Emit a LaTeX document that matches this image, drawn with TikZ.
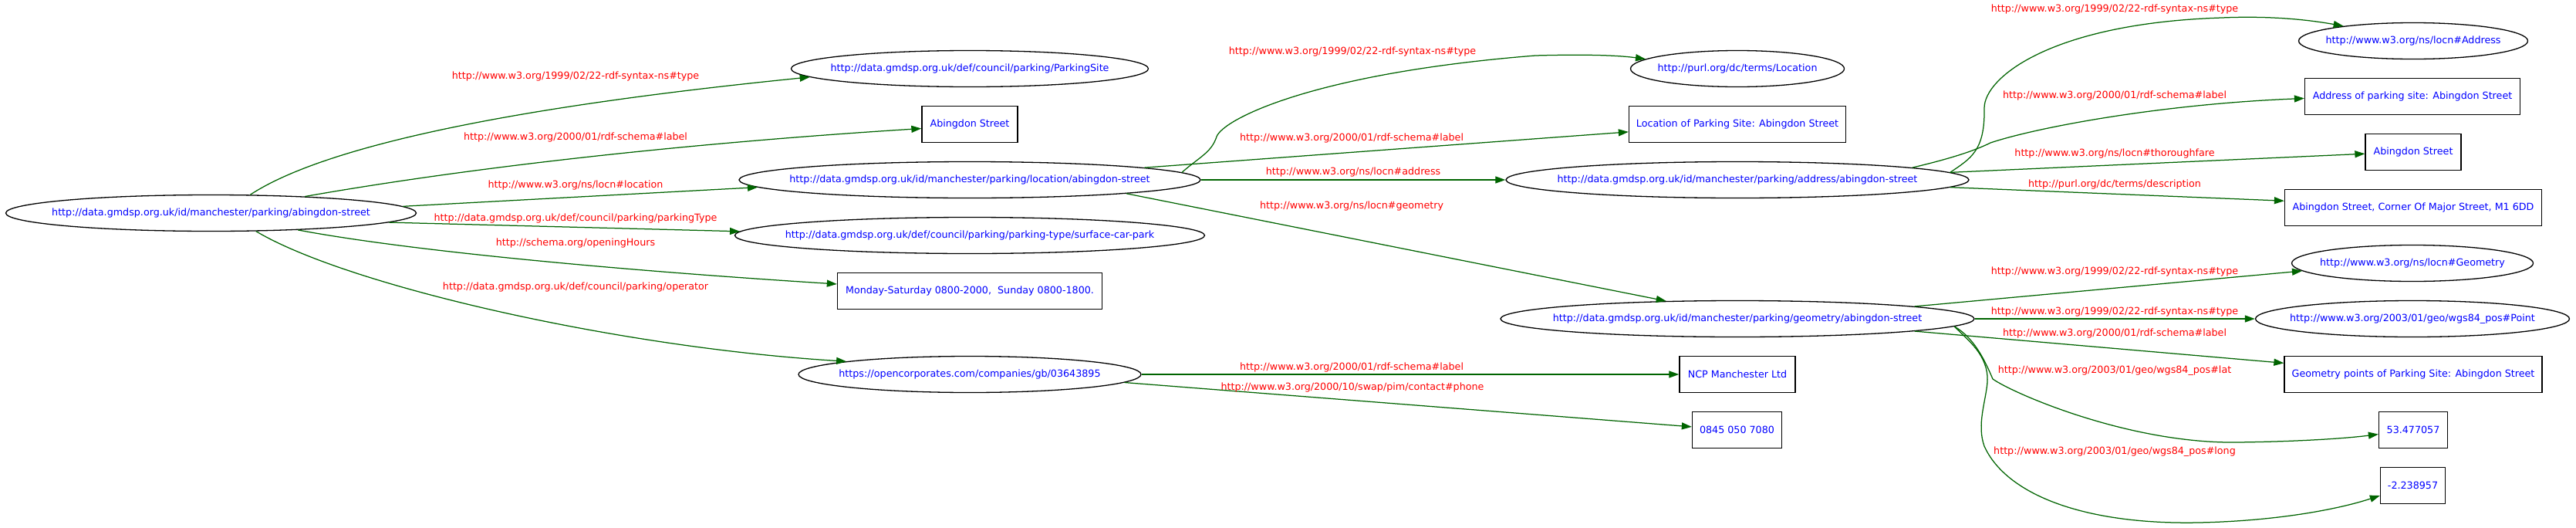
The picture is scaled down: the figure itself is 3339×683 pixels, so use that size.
\documentclass[tikz,border=0pt]{standalone}
\usepackage{fontspec}
\setmainfont{DejaVu Sans}
\usetikzlibrary{arrows.meta,shapes.geometric}
\definecolor{edgegreen}{HTML}{006400}
\definecolor{nodeblue}{HTML}{0000FF}
\definecolor{labelred}{HTML}{FF0000}
\begin{document}
\begin{tikzpicture}[x=1pt,y=-1pt,
  every node/.style={font=\fontsize{12.7pt}{15pt}\selectfont},
  res/.style={ellipse, draw=black, line width=1.3pt, inner xsep=-250pt, inner ysep=-20pt, text=nodeblue, minimum height=47pt},
  lit/.style={rectangle, draw=black, line width=1.3pt, inner sep=0pt, text=nodeblue, minimum height=47pt},
  pred/.style={text=labelred, inner sep=0pt},
  arc/.style={draw=edgegreen, line width=1.25pt, -{Triangle[length=13pt,width=9pt]}}]
\fill[white] (0,0) rectangle (3339,683);
\useasboundingbox (0,0) rectangle (3339,683);
% nodes, column 1
\node[res, minimum width=532pt] (main) at (273.5,276) {http://data.gmdsp.org.uk/id/manchester/parking/abingdon-street};
% column 2
\node[res, minimum width=463pt] (ps) at (1257,89) {http://data.gmdsp.org.uk/def/council/parking/ParkingSite};
\node[lit, minimum width=124pt] (abs1) at (1257,161) {Abingdon Street};
\node[res, minimum width=598pt] (loc) at (1257,233) {http://data.gmdsp.org.uk/id/manchester/parking/location/abingdon-street};
\node[res, minimum width=609pt] (sc) at (1257,305) {http://data.gmdsp.org.uk/def/council/parking/parking-type/surface-car-park};
\node[lit, minimum width=343pt] (mon) at (1257,377) {Monday-Saturday 0800-2000,\ \ Sunday 0800-1800.};
\node[res, minimum width=444pt] (oc) at (1257,485) {https://opencorporates.com/companies/gb/03643895};
% column 3
\node[res, minimum width=277pt] (lloc) at (2252,89) {http://purl.org/dc/terms/Location};
\node[lit, minimum width=281pt] (lbox) at (2252,161) {Location of Parking Site: Abingdon Street};
\node[res, minimum width=600pt] (addr) at (2252,233) {http://data.gmdsp.org.uk/id/manchester/parking/address/abingdon-street};
\node[res, minimum width=614pt] (geo) at (2252,413) {http://data.gmdsp.org.uk/id/manchester/parking/geometry/abingdon-street};
\node[lit, minimum width=150pt] (ncp) at (2252,485) {NCP Manchester Ltd};
\node[lit, minimum width=116pt] (tel) at (2251.5,557) {0845 050 7080};
% column 4
\node[res, minimum width=297pt] (ladr) at (3128,53) {http://www.w3.org/ns/locn\#Address};
\node[lit, minimum width=279pt] (aps) at (3127,125) {Address of parking site: Abingdon Street};
\node[lit, minimum width=124pt] (abs2) at (3128,197) {Abingdon Street};
\node[lit, minimum width=333pt] (corner) at (3128,269) {Abingdon Street, Corner Of Major Street, M1 6DD};
\node[res, minimum width=313pt] (lgeo) at (3127,341) {http://www.w3.org/ns/locn\#Geometry};
\node[res, minimum width=407pt] (pt) at (3127,413) {http://www.w3.org/2003/01/geo/wgs84\_pos\#Point};
\node[lit, minimum width=334pt] (gp) at (3128,485) {Geometry points of Parking Site: Abingdon Street};
\node[lit, minimum width=89pt] (lat) at (3128,557) {53.477057};
\node[lit, minimum width=84pt] (lon) at (3127.5,629) {-2.238957};
% edges
\draw[arc] (main.25) .. controls (450,170) and (800,125) .. (ps.183);
\draw[arc] (main.10) .. controls (620,215) and (900,185) .. (abs1.185);
\draw[arc] (main.2.5) -- (loc.182.6);
\draw[arc] (main.-3.5) -- (sc.179.6);
\draw[arc] (main.-11) .. controls (530,325) and (800,350) .. (mon.177);
\draw[arc] (main.-22.6) .. controls (450,370) and (800,450) .. (oc.174.2);
\draw[arc] (loc.2.9) .. controls (1555,203) and (1570,198) .. (1577,177) .. controls (1585,155) and (1700,95) .. (1990,72) .. controls (2060,70) and (2100,72) .. (lloc.174.2);
\draw[arc] (loc.4.07) -- (lbox.184.5);
\draw[arc] (loc.east) -- (addr.west);
\draw[arc] (loc.-5.93) -- (geo.166.5);
\draw[arc] (addr.2.3) .. controls (2555,205) and (2573,195) .. (2572,140) .. controls (2572,100) and (2660,30) .. (2880,23) .. controls (2950,20) and (3000,27) .. (ladr.168.1);
\draw[arc] (addr.4.12) .. controls (2530,205) and (2560,195) .. (2580,185) .. controls (2640,165) and (2800,135) .. (aps.181.2);
\draw[arc] (addr.2.5) -- (abs2.182.7);
\draw[arc] (addr.-2.36) -- (corner.177.6);
\draw[arc] (geo.4.74) -- (lgeo.184.6);
\draw[arc] (geo.east) -- (pt.west);
\draw[arc] (geo.-4.95) -- (gp.175.6);
\draw[arc] (geo.-2.08) .. controls (2560,438) and (2574,470) .. (2583,491) .. controls (2610,510) and (2760,575) .. (2900,573) .. controls (2980,572) and (3040,568) .. (lat.187.6);
\draw[arc] (geo.-2.63) .. controls (2550,440) and (2578,460) .. (2576,495) .. controls (2574,520) and (2562,550) .. (2572,578) .. controls (2600,640) and (2700,680) .. (2850,677) .. controls (2950,675) and (3030,660) .. (lon.197.9);
\draw[arc] (oc.east) -- (ncp.west);
\draw[arc] (oc.-3.9) -- (tel.176.1);
% edge labels
\node[pred] (l1) at (746,99) {http://www.w3.org/1999/02/22-rdf-syntax-ns\#type};
\node[pred] (l2) at (746,178) {http://www.w3.org/2000/01/rdf-schema\#label};
\node[pred] (l3) at (746,240) {http://www.w3.org/ns/locn\#location};
\node[pred] (l4) at (746,283) {http://data.gmdsp.org.uk/def/council/parking/parkingType};
\node[pred] (l5) at (746,315) {http://schema.org/openingHours};
\node[pred] (l6) at (746,372) {http://data.gmdsp.org.uk/def/council/parking/operator};
\node[pred] (l7) at (1753,67) {http://www.w3.org/1999/02/22-rdf-syntax-ns\#type};
\node[pred] (l8) at (1752,179) {http://www.w3.org/2000/01/rdf-schema\#label};
\node[pred] (l9) at (1754,223) {http://www.w3.org/ns/locn\#address};
\node[pred] (l10) at (1752,267) {http://www.w3.org/ns/locn\#geometry};
\node[pred] (l11) at (1752,476) {http://www.w3.org/2000/01/rdf-schema\#label};
\node[pred] (l12) at (1753,502) {http://www.w3.org/2000/10/swap/pim/contact\#phone};
\node[pred] (l13) at (2741,12) {http://www.w3.org/1999/02/22-rdf-syntax-ns\#type};
\node[pred] (l14) at (2741,124) {http://www.w3.org/2000/01/rdf-schema\#label};
\node[pred] (l15) at (2741,199) {http://www.w3.org/ns/locn\#thoroughfare};
\node[pred] (l16) at (2741,239) {http://purl.org/dc/terms/description};
\node[pred] (l17) at (2741,352) {http://www.w3.org/1999/02/22-rdf-syntax-ns\#type};
\node[pred] (l18) at (2741,404) {http://www.w3.org/1999/02/22-rdf-syntax-ns\#type};
\node[pred] (l19) at (2741,432) {http://www.w3.org/2000/01/rdf-schema\#label};
\node[pred] (l20) at (2741,480) {http://www.w3.org/2003/01/geo/wgs84\_pos\#lat};
\node[pred] (l21) at (2741,585) {http://www.w3.org/2003/01/geo/wgs84\_pos\#long};
\end{tikzpicture}
\end{document}
